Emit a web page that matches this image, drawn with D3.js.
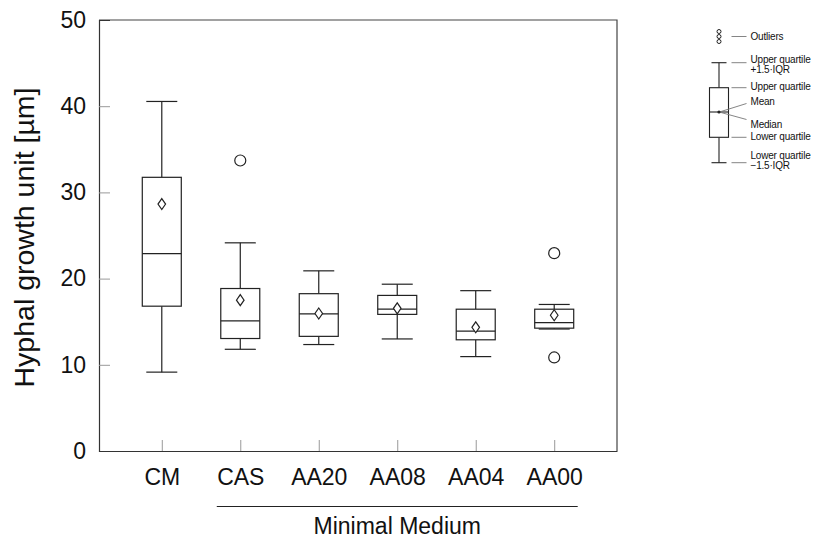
<!DOCTYPE html>
<html>
<head>
<meta charset="utf-8">
<script src="https://cdn.jsdelivr.net/npm/d3@7"></script>
<style>
  body { margin: 0; background: #fff; }
  svg { font-family: "Liberation Sans", Arial, sans-serif; }
</style>
</head>
<body>
<div id="chart"></div>
<script>
//Chart data
const categories = ["CM", "CAS", "AA20", "AA08", "AA04", "AA00"];
const whiskerLow = [9.15, 11.8, 12.35, 13.0, 10.95, 14.15];
const lowerQuartile = [16.8, 13.05, 13.3, 15.85, 12.9, 14.25];
const medians = [22.9, 15.1, 15.9, 16.45, 13.9, 14.9];
const upperQuartile = [31.75, 18.85, 18.25, 18.05, 16.45, 16.45];
const whiskerHigh = [40.55, 24.15, 20.9, 19.35, 18.6, 17.0];
const means = [28.65, 17.5, 15.95, 16.55, 14.35, 15.75];
const outliers = [[], [33.7], [], [], [], [22.95, 10.85]];
const yTicks = [0, 10, 20, 30, 40, 50];

const width = 815;
const height = 543;
const margin = { top: 20, left: 99, right: 198, bottom: 92 };
const plotRight = width - margin.right;
const plotBottom = height - margin.bottom;

const svg = d3.select("#chart")
    .append("svg")
    .attr("width", width)
    .attr("height", height);

const x = d3.scalePoint()
    .domain(categories)
    .range([margin.left, plotRight])
    .padding(0.8);

const y = d3.scaleLinear()
    .domain([0, 50])
    .range([plotBottom, margin.top]);

const boxHalf = 19.5;
const capHalf = 15.5;
const dark = "#222";

//frame (top and right)
svg.append("path")
    .attr("d", `M${margin.left},${margin.top}H${plotRight}V${plotBottom}`)
    .attr("fill", "none")
    .attr("stroke", "#444")
    .attr("stroke-width", 1.2);

//y axis, ticks drawn inward
const yAxis = svg.append("g")
    .attr("transform", `translate(${margin.left},0)`)
    .call(d3.axisLeft(y).tickValues(yTicks).tickSize(-11).tickPadding(13));
yAxis.select(".domain").attr("stroke", "#333").attr("stroke-width", 1.2);
yAxis.selectAll(".tick line").attr("stroke", "#999");
yAxis.selectAll(".tick").filter(d => d === 0 || d === 50).select("line").remove();
yAxis.selectAll("text")
    .attr("font-size", 23)
    .attr("fill", "#111")
    .attr("font-family", "Liberation Sans, Arial, sans-serif");

//x axis
const xAxis = svg.append("g")
    .attr("transform", `translate(0,${plotBottom})`)
    .call(d3.axisBottom(x).tickSize(-11).tickSizeOuter(0).tickPadding(18));
xAxis.select(".domain").attr("stroke", "#333").attr("stroke-width", 1.2);
xAxis.selectAll(".tick line").attr("stroke", "#999");
xAxis.selectAll("text")
    .attr("font-size", 23)
    .attr("fill", "#111")
    .attr("font-family", "Liberation Sans, Arial, sans-serif");

//y label
svg.append("text")
    .attr("transform", `translate(34,${(margin.top + plotBottom) / 2 + 2}) rotate(-90)`)
    .attr("text-anchor", "middle")
    .attr("font-size", 28.5)
    .attr("fill", "#111")
    .text("Hyphal growth unit [µm]");

//group bracket for minimal media
const mmStart = x("CAS") - 23.5;
const mmEnd = x("AA00") + 23.5;
svg.append("line")
    .attr("x1", mmStart).attr("x2", mmEnd)
    .attr("y1", 506.5).attr("y2", 506.5)
    .attr("stroke", dark).attr("stroke-width", 1.2);
svg.append("text")
    .attr("x", (mmStart + mmEnd) / 2)
    .attr("y", 534)
    .attr("text-anchor", "middle")
    .attr("font-size", 23)
    .attr("fill", "#111")
    .text("Minimal Medium");

//boxes
const boxData = categories.map((c, i) => ({
    cat: c,
    lo: whiskerLow[i],
    q1: lowerQuartile[i],
    med: medians[i],
    q3: upperQuartile[i],
    hi: whiskerHigh[i],
    mean: means[i],
    out: outliers[i]
}));

const boxes = svg.selectAll(".box")
    .data(boxData)
    .enter().append("g")
    .attr("class", "box")
    .attr("transform", d => `translate(${x(d.cat)},0)`)
    .attr("stroke", dark)
    .attr("stroke-width", 1.2)
    .attr("fill", "none");

//whiskers
boxes.append("line")
    .attr("y1", d => y(d.hi)).attr("y2", d => y(d.q3));
boxes.append("line")
    .attr("y1", d => y(d.lo)).attr("y2", d => y(d.q1));
boxes.append("line")
    .attr("x1", -capHalf).attr("x2", capHalf)
    .attr("y1", d => y(d.hi)).attr("y2", d => y(d.hi));
boxes.append("line")
    .attr("x1", -capHalf).attr("x2", capHalf)
    .attr("y1", d => y(d.lo)).attr("y2", d => y(d.lo));

boxes.append("rect")
    .attr("x", -boxHalf)
    .attr("width", boxHalf * 2)
    .attr("y", d => y(d.q3))
    .attr("height", d => y(d.q1) - y(d.q3))
    .attr("fill", "#fff");

boxes.append("line")
    .attr("x1", -boxHalf).attr("x2", boxHalf)
    .attr("y1", d => y(d.med)).attr("y2", d => y(d.med));

//mean diamond
boxes.append("path")
    .attr("d", d => {
        const cy = y(d.mean);
        return `M0,${cy - 5.5}L3.8,${cy}L0,${cy + 5.5}L-3.8,${cy}Z`;
    })
    .attr("fill", "#fff");

//outliers
boxes.selectAll(".outlier")
    .data(d => d.out)
    .enter().append("circle")
    .attr("class", "outlier")
    .attr("cy", d => y(d))
    .attr("r", 5.5)
    .attr("fill", "#fff");

//legend
const legend = svg.append("g")
    .attr("font-size", 10)
    .attr("fill", "#111");
const lx = 719;
const lineStart = 731.5;
const lineEnd = 746.5;
const textX = 750.5;
const grey = "#777";

[31.5, 36.5, 41.5].forEach(cy => {
    legend.append("circle")
        .attr("cx", lx).attr("cy", cy).attr("r", 2)
        .attr("fill", "#fff").attr("stroke", dark).attr("stroke-width", 1);
});

const lg = legend.append("g").attr("stroke", dark).attr("stroke-width", 1.1).attr("fill", "none");
lg.append("line").attr("x1", lx).attr("x2", lx).attr("y1", 62.7).attr("y2", 87.7);
lg.append("line").attr("x1", lx).attr("x2", lx).attr("y1", 137.3).attr("y2", 162.7);
lg.append("line").attr("x1", lx - 7.5).attr("x2", lx + 7.5).attr("y1", 62.7).attr("y2", 62.7);
lg.append("line").attr("x1", lx - 7.5).attr("x2", lx + 7.5).attr("y1", 162.7).attr("y2", 162.7);
lg.append("rect").attr("x", lx - 9.5).attr("y", 87.7).attr("width", 19).attr("height", 49.6).attr("fill", "#fff");
lg.append("line").attr("x1", lx - 9.5).attr("x2", lx + 9.5).attr("y1", 112).attr("y2", 112);
legend.append("circle").attr("cx", lx).attr("cy", 112).attr("r", 1.6).attr("fill", dark);

const pointers = [
    [lineStart, 36.5, lineEnd, 36.5],
    [lineStart, 62.7, lineEnd, 62.7],
    [lineStart, 87.7, lineEnd, 87.7],
    [lx + 2, 111.5, lineEnd, 103.5],
    [lx + 2, 112.5, lineEnd, 119.5],
    [lineStart, 137.3, lineEnd, 137.3],
    [lineStart, 162.7, lineEnd, 162.7]
];
pointers.forEach(p => {
    legend.append("line")
        .attr("x1", p[0]).attr("y1", p[1]).attr("x2", p[2]).attr("y2", p[3])
        .attr("stroke", grey).attr("stroke-width", 0.9);
});

const legendTexts = [
    ["Outliers", 40.2],
    ["Upper quartile", 62.5],
    ["+1.5·IQR", 72.8],
    ["Upper quartile", 90.2],
    ["Mean", 104.5],
    ["Median", 127.8],
    ["Lower quartile", 140.2],
    ["Lower quartile", 158.8],
    ["−1.5·IQR", 169.2]
];
legendTexts.forEach(t => {
    legend.append("text")
        .attr("x", textX).attr("y", t[1])
        .attr("letter-spacing", -0.2)
        .text(t[0]);
});
</script>
</body>
</html>
